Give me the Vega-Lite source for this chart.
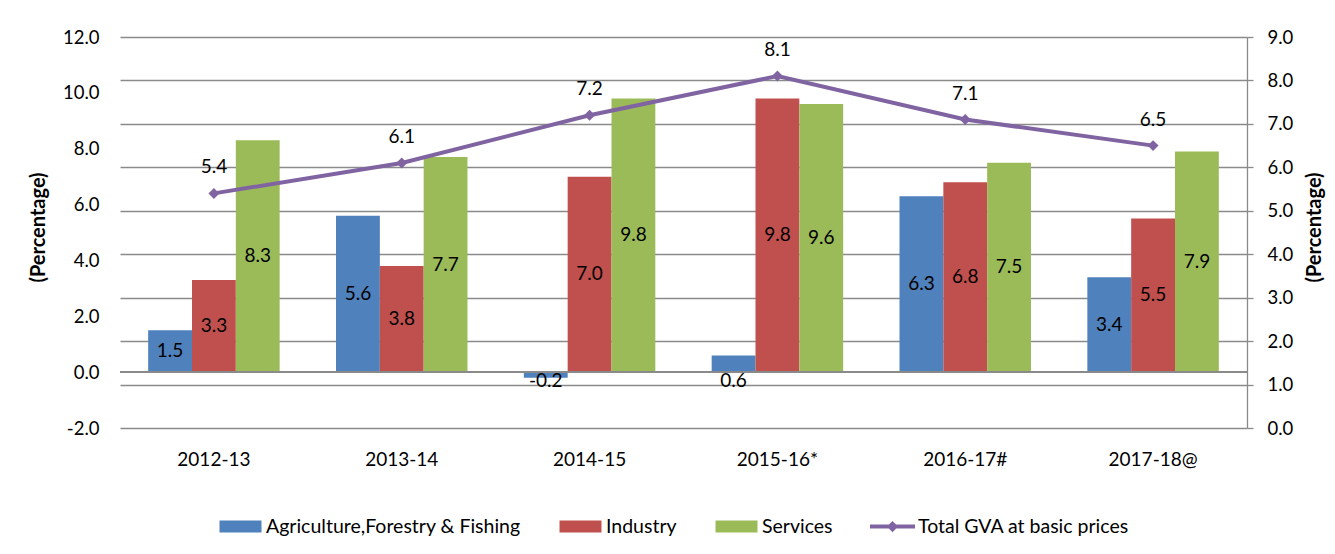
{
  "$schema": "https://vega.github.io/schema/vega-lite/v6.json",
  "autosize": {"type": "none"},
  "width": 1127,
  "height": 391,
  "padding": {"left": 120, "top": 37, "right": 88, "bottom": 126},
  "background": "white",
  "config": {
    "font": "Lato",
    "view": {"stroke": null},
    "axis": {"labelFont": "Lato", "labelColor": "#000000", "titleFont": "Lato", "titleColor": "#000000"}
  },
  "data": {
    "values": [
      {"year": "2012-13", "series": "Agriculture,Forestry & Fishing", "value": 1.5},
      {"year": "2012-13", "series": "Industry", "value": 3.3},
      {"year": "2012-13", "series": "Services", "value": 8.3},
      {"year": "2012-13", "series": "Total GVA at basic prices", "value": 5.4},
      {"year": "2013-14", "series": "Agriculture,Forestry & Fishing", "value": 5.6},
      {"year": "2013-14", "series": "Industry", "value": 3.8},
      {"year": "2013-14", "series": "Services", "value": 7.7},
      {"year": "2013-14", "series": "Total GVA at basic prices", "value": 6.1},
      {"year": "2014-15", "series": "Agriculture,Forestry & Fishing", "value": -0.2},
      {"year": "2014-15", "series": "Industry", "value": 7.0},
      {"year": "2014-15", "series": "Services", "value": 9.8},
      {"year": "2014-15", "series": "Total GVA at basic prices", "value": 7.2},
      {"year": "2015-16*", "series": "Agriculture,Forestry & Fishing", "value": 0.6},
      {"year": "2015-16*", "series": "Industry", "value": 9.8},
      {"year": "2015-16*", "series": "Services", "value": 9.6},
      {"year": "2015-16*", "series": "Total GVA at basic prices", "value": 8.1},
      {"year": "2016-17#", "series": "Agriculture,Forestry & Fishing", "value": 6.3},
      {"year": "2016-17#", "series": "Industry", "value": 6.8},
      {"year": "2016-17#", "series": "Services", "value": 7.5},
      {"year": "2016-17#", "series": "Total GVA at basic prices", "value": 7.1},
      {"year": "2017-18@", "series": "Agriculture,Forestry & Fishing", "value": 3.4},
      {"year": "2017-18@", "series": "Industry", "value": 5.5},
      {"year": "2017-18@", "series": "Services", "value": 7.9},
      {"year": "2017-18@", "series": "Total GVA at basic prices", "value": 6.5}
    ]
  },
  "encoding": {
    "x": {
      "field": "year", "type": "nominal", "sort": null,
      "scale": {"paddingInner": 0.3, "paddingOuter": 0.15},
      "axis": {"title": null, "labelAngle": 0, "domain": false, "ticks": false, "labelPadding": 22, "labelFontSize": 19, "labelBaseline": "top"}
    }
  },
  "layer": [
    {
      "transform": [{"filter": "datum.series !== 'Total GVA at basic prices'"}],
      "layer": [
        {
          "mark": {"type": "bar"},
          "encoding": {
            "xOffset": {"field": "series", "type": "nominal", "sort": null,
              "scale": {"domain": ["Agriculture,Forestry & Fishing", "Industry", "Services"], "paddingInner": 0, "paddingOuter": 0}},
            "y": {
              "field": "value", "type": "quantitative",
              "scale": {"domain": [-2, 12], "nice": false, "zero": false},
              "axis": {"title": "(Percentage)", "titleFontSize": 20, "titleFontWeight": "bold", "titleAngle": 270,
                "titleX": -82, "titleY": 190, "titleAlign": "center", "titleBaseline": "middle",
                "values": [-2, 0, 2, 4, 6, 8, 10, 12], "format": ".1f",
                "labelExpr": "replace(datum.label, '\u2212', '-')",
                "domain": false, "ticks": false, "grid": false,
                "labelPadding": 21, "labelFontSize": 18.5}
            },
            "color": {
              "field": "series", "type": "nominal",
              "scale": {"domain": ["Agriculture,Forestry & Fishing", "Industry", "Services", "Total GVA at basic prices"],
                "range": ["#4F81BD", "#C0504D", "#9BBB59", "#8064A2"]},
              "legend": {
                "title": null, "orient": "none", "direction": "horizontal", "legendX": 98, "legendY": 467,
                "padding": 0, "columnPadding": 37, "symbolSize": 2025, "labelOffset": 3, "labelFontSize": 19.5,
                "labelLimit": 0,
                "labelColor": "#000000", "labelFont": "Lato", "symbolStrokeWidth": 0,
                "encode": {
                  "symbols": {
                    "update": {
                      "shape": {"signal": "datum.value === 'Total GVA at basic prices' ? 'M-1,-0.09H1V0.09H-1Z M-0.25,0L0,-0.25L0.25,0L0,0.25Z' : 'M-0.933,-0.267H0.933V0.267H-0.933Z'"},
                      "fill": {"scale": "color", "field": "value"},
                      "stroke": {"value": "transparent"},
                      "opacity": {"value": 1},
                      "fillOpacity": {"value": 1}
                    }
                  }
                }
              }
            }
          }
        },
        {
          "transform": [
            {"calculate": "datum.value < 1 ? -0.3 : datum.value / 2", "as": "labelPos"},
            {"calculate": "replace(format(datum.value, '.1f'), '\u2212', '-')", "as": "labelText"}
          ],
          "mark": {"type": "text", "fontSize": 19, "color": "#000000", "baseline": "middle", "align": "center"},
          "encoding": {
            "xOffset": {"field": "series", "type": "nominal", "sort": null},
            "y": {"field": "labelPos", "type": "quantitative"},
            "text": {"field": "labelText", "type": "nominal"}
          }
        },
        {
          "mark": {"type": "rule", "color": "#8a8a8a", "strokeWidth": 1.3},
          "encoding": {"y": {"datum": 0}, "x": {"value": 0}, "x2": {"value": 1127}}
        }
      ]
    },
    {
      "transform": [{"filter": "datum.series === 'Total GVA at basic prices'"}],
      "layer": [
        {
          "mark": {"type": "line", "strokeWidth": 4, "point": {"shape": "diamond", "size": 120, "filled": true}},
          "encoding": {
            "y": {
              "field": "value", "type": "quantitative",
              "scale": {"domain": [0, 9], "nice": false, "zero": false},
              "axis": {"orient": "right", "title": "(Percentage)", "titleFontSize": 20, "titleFontWeight": "bold", "titleAngle": 270,
                "titleX": 67, "titleY": 190, "titleAlign": "center", "titleBaseline": "middle",
                "values": [0, 1, 2, 3, 4, 5, 6, 7, 8, 9], "format": ".1f",
                "domain": true, "domainColor": "#8a8a8a", "domainWidth": 1.3,
                "ticks": true, "tickSize": 6, "tickColor": "#8a8a8a", "tickWidth": 1.3,
                "grid": true, "gridColor": "#8a8a8a", "gridWidth": 1.3,
                "labelPadding": 14, "labelFontSize": 18.5}
            },
            "color": {"field": "series", "type": "nominal"}
          }
        },
        {
          "mark": {"type": "text", "fontSize": 19, "color": "#000000", "dy": -26, "align": "center", "baseline": "middle"},
          "encoding": {
            "y": {"field": "value", "type": "quantitative"},
            "text": {"field": "value", "type": "quantitative", "format": ".1f"}
          }
        }
      ]
    }
  ],
  "resolve": {"scale": {"y": "independent"}}
}
